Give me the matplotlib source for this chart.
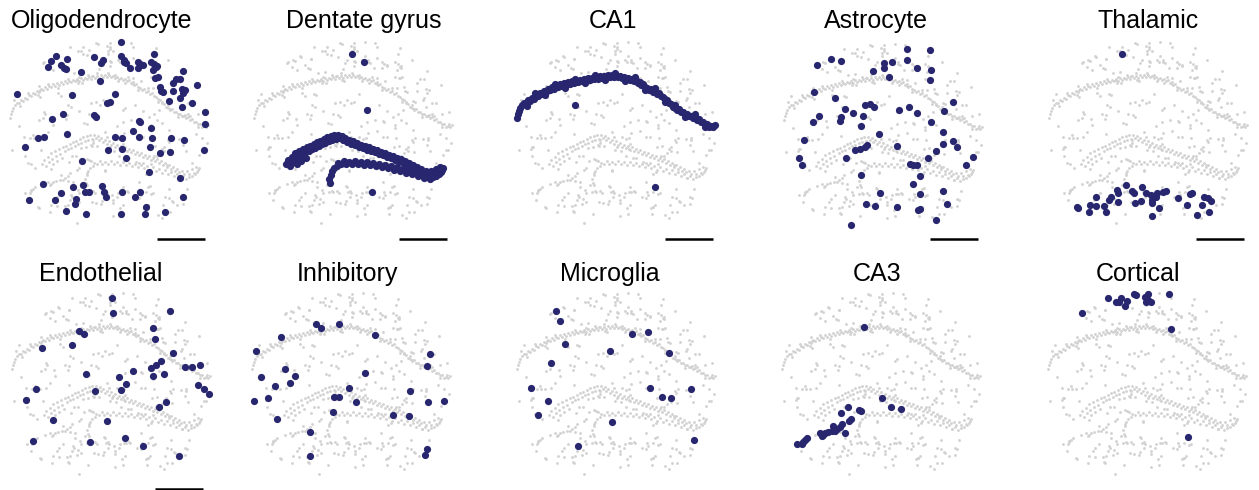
import matplotlib
matplotlib.use("Agg")
import matplotlib.pyplot as plt
import numpy as np

plt.rcParams['font.family'] = ['Liberation Sans', 'DejaVu Sans']

# ---------------- data: cell positions (tissue coordinates, y downward) ----------------
oligodendrocyte = [
    (112.7, -0.7), (48, 12.7), (43, 17.7), (59.3, 16), (39.7, 23.7), (52.7, 22), (56, 25.3), (57.7, 26.3),
    (86.3, 14.3), (94.7, 17), (93, 20.3), (112.7, 12.7), (116, 18.7), (117.7, 20.3), (116, 17), (122, 24.7),
    (130, 19.3), (132, 21.3), (130.3, 25.3), (134.7, 22), (146.3, 11), (142.7, 19.3), (146, 21.3), (148, 24.3),
    (144.7, 27), (148.7, 23), (73.3, 28.7), (92, 38), (147, 35.3), (150.3, 34.3), (175.3, 28.3), (167.7, 36.3),
    (165.3, 40.3), (172, 36.3), (152, 43.7), (155.3, 49), (153, 47.7), (164.7, 48), (173.7, 46.3), (177, 47),
    (175, 50.3), (172, 55.3), (188.7, 42.3), (8.7, 51), (64, 52.3), (106.7, 51.3), (99.3, 59.7), (102, 59.3),
    (161.3, 58), (183.7, 59.7), (174.3, 64), (196.7, 68.7), (196.7, 81), (43.7, 76), (55, 70.7), (86, 72.3),
    (88, 74.3), (131.3, 77.7), (132, 79.3), (124.7, 87.7), (143, 85), (130.7, 94.3), (143.7, 94.7), (163, 95),
    (176.3, 97.3), (58.7, 91.3), (30.3, 95), (35.7, 94), (17, 104.3), (106.7, 94.3), (113.7, 95.3), (99.7, 107),
    (113.7, 106.3), (142, 103.7), (152.3, 109.7), (162.3, 109), (196.3, 107), (118, 114.7), (74.3, 118),
    (141.3, 128.7), (172, 135), (34.7, 141), (65.3, 143.7), (74.7, 142.3), (94.3, 143), (53.3, 150), (77.3, 149),
    (81.3, 148.7), (96.3, 149.3), (98, 154.3), (114.3, 148.7), (132, 149.3), (127, 154.3), (21.3, 157),
    (46.7, 157), (67.7, 156.3), (67.3, 161), (58, 167.7), (77.7, 171.3), (113.3, 171.3), (138, 163.7),
    (137, 171), (156.7, 169), (174.7, 153.7),
]

dentate_gyrus = [
    # isolated cells
    (100, 11), (111.7, 19.3), (115.3, 67.3), (120.3, 148.7),
    # upper blade
    (34, 121), (36, 117), (38, 123), (40, 114), (41, 119), (43, 110), (44, 116), (45, 121), (47, 108), (48, 113),
    (49, 118), (51, 106), (52, 111), (54, 115), (55, 104), (57, 108), (58, 103), (60, 106), (62, 101), (63, 105),
    (65, 99), (67, 103), (68, 98), (70, 101), (72, 96), (73, 100), (75, 94), (77, 98), (79, 93), (80, 97),
    (82, 92), (84, 96), (86, 92), (88, 95), (90, 93), (91, 97), (93, 95), (95, 99), (97, 97), (99, 101),
    (101, 98), (103, 102), (105, 100), (107, 104), (109, 102), (111, 105), (113, 103), (115, 107), (117, 104),
    (119, 108), (121, 106), (123, 109), (125, 107), (127, 111), (129, 109), (131, 112), (133, 110), (135, 114),
    (137, 112), (139, 115), (141, 113), (143, 117), (145, 115), (147, 118), (149, 116), (151, 120), (153, 118),
    (155, 122), (157, 120), (159, 124), (161, 122), (163, 126), (165, 124), (167, 128), (169, 126), (171, 129),
    (174, 128), (176, 131), (179, 128), (181, 131), (184, 126), (186, 130), (188, 124), (190, 127),
    # lower blade
    (78, 140), (77, 136), (79, 132), (80, 128), (82, 125), (85, 123), (86, 120), (89, 121), (92, 118), (94, 121),
    (97, 119), (100, 121), (103, 118), (106, 121), (109, 119), (112, 122), (115, 119), (118, 122), (121, 120),
    (124, 123), (127, 121), (130, 124), (133, 122), (136, 125), (139, 123), (142, 127), (145, 124), (148, 128),
    (151, 126), (154, 130), (157, 127), (160, 131), (163, 129), (166, 133), (169, 131), (172, 135), (175, 133),
    (178, 136), (181, 134), (184, 133), (187, 131), (189, 129), (191, 125),
]

ca1 = [
    (60, 62), (140, 144),
    (2, 75), (3, 71), (4, 68), (5, 65), (7, 62), (9, 60), (11, 60), (13, 57), (15, 58), (17, 55), (19, 56),
    (21, 52), (23, 53), (25, 50), (27, 51), (29, 48), (31, 49), (33, 46), (35, 47), (37, 44), (39, 46), (41, 43),
    (43, 44), (45, 41), (47, 43), (49, 40), (51, 42), (53, 39), (55, 41), (57, 38), (59, 40), (61, 38), (63, 39),
    (65, 37), (67, 38), (69, 36), (71, 38), (73, 35), (75, 37), (77, 35), (79, 36), (81, 34), (83, 36), (85, 33),
    (87, 35), (89, 33), (91, 35), (93, 32), (95, 34), (97, 32), (99, 34), (101, 32), (103, 34), (105, 33),
    (107, 35), (109, 34), (111, 36), (113, 35), (115, 37), (117, 36), (119, 38), (121, 37), (123, 40), (125, 39),
    (126, 42), (128, 41), (130, 44), (132, 45), (134, 47), (136, 46), (138, 49), (140, 48), (142, 51), (144, 50),
    (146, 53), (148, 54), (150, 56), (152, 57), (154, 60), (156, 61), (158, 64), (160, 65), (162, 67), (164, 66),
    (166, 69), (168, 69), (170, 71), (172, 71), (174, 73), (176, 73), (178, 75), (180, 74), (182, 77), (184, 76),
    (186, 79), (188, 79), (190, 81), (192, 81), (194, 84), (196, 83), (198, 84), (200, 82),
    # cells on the outer and inner edges of the layer
    (20, 50), (40, 41), (60, 36), (80, 32), (100, 30), (120, 34), (140, 45), (160, 62), (180, 71),
    (12, 63), (30, 52), (50, 45), (70, 40), (90, 37), (110, 38), (130, 47), (150, 59), (170, 74), (190, 84),
]

astrocyte = [
    (124.7, 3.7), (147.7, 5), (35.3, 20), (49, 14.3), (58.7, 16), (101.7, 17.7), (110, 17.3), (102, 23),
    (125.3, 15.3), (90.7, 25.7), (135, 23), (149, 25), (106.7, 32), (147.7, 35), (32.3, 47.3), (53, 52.7),
    (83.3, 60.3), (88.3, 59.3), (92, 61.7), (63.3, 64), (71.3, 67.7), (81.3, 71), (37, 71), (31.3, 77),
    (57.7, 76.3), (59, 72), (79.3, 81.3), (117.3, 65), (127, 62.3), (135, 68), (162, 65.7), (171.3, 57.3),
    (149, 77), (97, 89.3), (160.7, 87), (22.3, 95.3), (170.7, 95.7), (175.3, 101.7), (161, 98.7), (115, 101),
    (73.3, 105.3), (78, 103.7), (83, 102), (85.3, 100.3), (153.7, 105.7), (17, 113.3), (20.3, 120), (64, 113),
    (146.3, 113), (128, 118.7), (131.3, 119.7), (135, 120), (191.3, 112.3), (183.7, 119.7), (79.3, 129.7),
    (138.3, 131.3), (130.7, 138.7), (160.7, 145.7), (98.3, 148.3), (137.7, 149), (83.7, 158.7), (93, 160.7),
    (115.3, 161.7), (136.3, 164.7), (138, 163.7), (165, 159), (154.3, 175), (69.3, 180),
]

thalamic = [
    (74.7, 10.7), (30.3, 163.7), (31, 165.3), (42, 169), (43, 162), (48.7, 154.3), (49.3, 163), (57, 163),
    (59.3, 168.7), (62, 157), (64, 153.7), (70.3, 147), (71, 149.7), (71.3, 159), (78.7, 142.3), (85.3, 148),
    (88, 160.3), (87, 150.3), (93.7, 157.7), (95.3, 143.7), (98.7, 150.3), (103.7, 152), (105.3, 157),
    (104.7, 160.3), (108.7, 153.7), (110.3, 150.3), (112, 165.3), (105.3, 173), (116, 148.7), (118.7, 148),
    (131.3, 154.7), (140.3, 162), (142.7, 151), (145.3, 150.3), (150.3, 172), (155.3, 162), (157, 153.7),
    (161.3, 155.3), (163.7, 157.7), (162, 168.7),
]

endothelial = [
    (101.7, 3.7), (103.3, 18.7), (159.7, 16.7), (143.3, 33.7), (144.7, 44.7), (69.3, 37.3), (74, 39.7),
    (32, 54.3), (62.3, 51.3), (162.7, 58.7), (150.7, 66.7), (146, 71), (140.7, 74.3), (143, 81.7), (154, 79.7),
    (175.3, 73), (182.3, 73.3), (190.3, 70.7), (76.3, 80.3), (109.3, 82.7), (122.7, 77), (116, 90.3),
    (111, 95.7), (85, 97), (26, 94.7), (188.3, 91), (194.3, 95.3), (199.3, 99.7), (16, 106), (156, 107.7),
    (149, 113), (42.7, 126), (97, 127), (22.7, 147.3), (80.3, 147.7), (115.3, 144), (132.7, 152.3), (168.7, 162),
]

inhibitory = [
    (66, 30), (71, 34.3), (89.3, 29.7), (30.7, 42.7), (124.7, 40.7), (6, 57), (180, 59.7), (177.3, 71.7),
    (35.3, 74.7), (45.3, 81.7), (10.7, 83.3), (40, 89), (25, 92), (115, 78.7), (99.3, 94), (159.7, 97.3),
    (18, 104), (4, 107.3), (84.3, 102.7), (89.3, 103), (106, 107.7), (177.7, 107.7), (194.3, 106.7),
    (27.3, 124.7), (82.7, 118.3), (143.3, 120.7), (159, 122.3), (59.7, 137.7), (177, 155), (175.3, 161), (60, 162),
]

microglia = [
    (40.7, 16.7), (45.3, 27.3), (116.7, 40.3), (133.3, 38), (49.7, 50), (95, 56.7), (154.3, 59.3), (36.3, 68.7),
    (16.3, 93.7), (135, 93.7), (32.7, 106.7), (147, 103), (155.7, 104.3), (175.7, 95.3), (23, 121.3),
    (97, 127.7), (179, 146.3), (63.3, 152),
]

ca3 = [
    (83.7, 32.7), (102, 103.7), (110.7, 113), (120.7, 114.7), (68, 113), (60.7, 119.3), (79, 115.7), (81, 116.7),
    (70.7, 125), (69, 126.7), (61.7, 130.3), (60, 132.7), (53.3, 131.7), (52.3, 137), (55, 137), (56.7, 135.3),
    (48.3, 137.7), (43.3, 141), (45, 139.3), (40, 138.7), (41.7, 141.7), (65, 138.7), (26.7, 144.3),
    (23.3, 147.7), (25, 146), (16.7, 149.7), (21.7, 149.7),
]

cortical = [
    (61.7, 3.7), (75.3, 3.7), (69.7, 8.3), (73, 8.3), (78.7, 11.7), (81.3, 7), (88, 0.3), (89.7, 1), (99, 2.7),
    (102.3, 0.3), (99.7, 7.7), (104.7, 8.3), (102, 6), (122.7, 0.3), (36, 18.7), (125.3, 35.3), (142, 143.3),
]

titles = ["Oligodendrocyte", "Dentate gyrus", "CA1", "Astrocyte", "Thalamic",
          "Endothelial", "Inhibitory", "Microglia", "CA3", "Cortical"]
cell_sets = [oligodendrocyte, dentate_gyrus, ca1, astrocyte, thalamic,
             endothelial, inhibitory, microglia, ca3, cortical]
scale_bar_length = 48

# ---------------- layout (pixels) ----------------
W, H = 1259, 490
origins = [(8, 43), (252, 43), (515, 43), (782, 45), (1047, 43),
           (10, 294), (250, 294), (515, 294), (780, 294), (1046, 294)]
title_pos = [(102, 28), (364, 28), (613, 28), (876, 28), (1148, 28),
             (101, 281), (347, 281), (610, 281), (877, 281), (1138, 281)]
bar_pos = [(149, 196), (147, 196), (150, 196), (148, 194), (149, 196),
           (145, 194.5), (151, 196.5), (152, 196.5), (152, 196.5), (151, 196.5)]

BLUE = "#27266e"
GRAY = "#d2d2d2"

all_cells = np.array([p for s in cell_sets for p in s])

fig = plt.figure(figsize=(W / 100, H / 100), dpi=100)
X0, X1, Y0, Y1 = -6, 206, -8, 200
for i, (name, cells) in enumerate(zip(titles, cell_sets)):
    ox, oy = origins[i]
    left = (ox + X0) / W
    top = oy + Y0
    bottom = 1 - (top + (Y1 - Y0)) / H
    ax = fig.add_axes([left, bottom, (X1 - X0) / W, (Y1 - Y0) / H])
    ax.set_xlim(X0, X1)
    ax.set_ylim(Y1, Y0)
    ax.axis("off")
    ax.scatter(all_cells[:, 0], all_cells[:, 1], s=4.2, color=GRAY, linewidths=0, zorder=1)
    c = np.array(cells)
    ax.scatter(c[:, 0], c[:, 1], s=27, color=BLUE, linewidths=0, zorder=2)
    bx, by = bar_pos[i]
    ax.plot([bx, bx + scale_bar_length], [by, by], color="black", lw=1.8,
            solid_capstyle="butt", clip_on=False, zorder=3)
    tx, ty = title_pos[i]
    fig.text(tx / W, 1 - ty / H, name, ha="center", va="baseline", fontsize=18)

fig.savefig("out.png", dpi=100)
